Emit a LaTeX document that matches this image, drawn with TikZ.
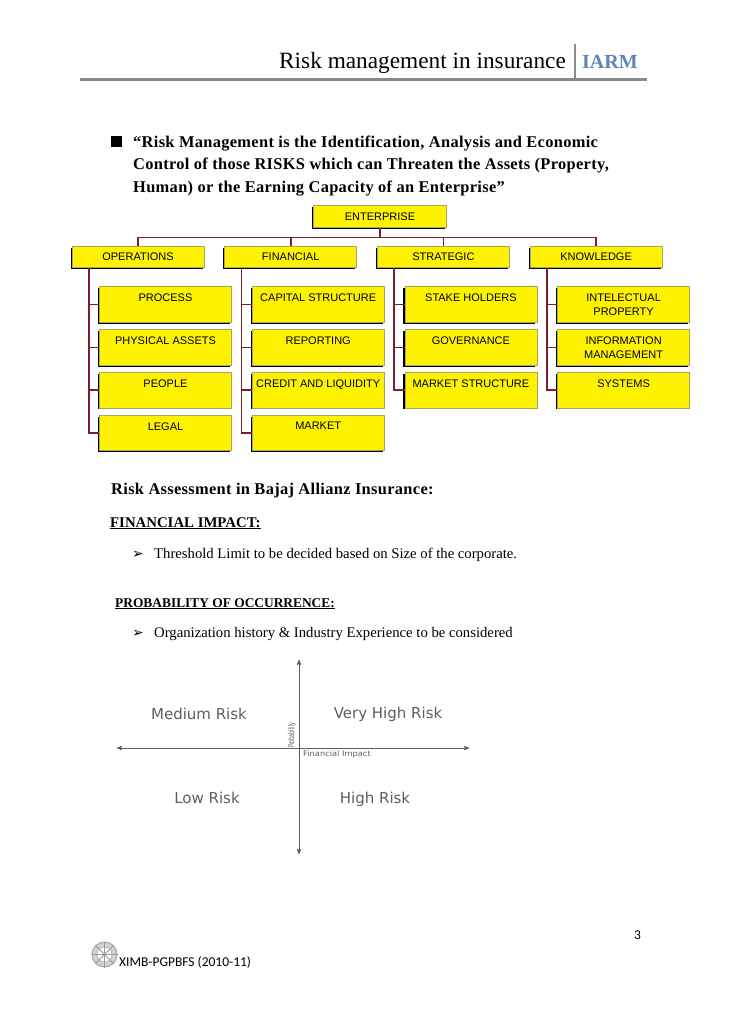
\documentclass[tikz,border=0pt]{standalone}
\usepackage{fontspec}
\setmainfont{Liberation Serif}
\setsansfont{Liberation Sans}
\newfontfamily\symfont{DejaVu Sans}
\newfontfamily\chartfont{DejaVu Sans}
\newfontfamily\pagefont{Carlito}
\newfontfamily\spacedfont[LetterSpace=2.0]{Liberation Serif}
\usetikzlibrary{arrows,shadows}
\definecolor{treered}{HTML}{7A1F2B}
\definecolor{boxedge}{HTML}{A9A65C}
\definecolor{headblue}{HTML}{5B86B5}
\definecolor{axisgray}{HTML}{5E5E5E}
\definecolor{rulegray}{HTML}{8A8A8A}
\newcommand{\toptext}[1]{\parbox[c][21pt][t]{130pt}{\centering\baselineskip=14pt #1}}

\begin{document}
\begin{tikzpicture}[x=1pt,y=-1pt,>=stealth',node distance=42.8pt,
  head node/.style={rectangle,fill=yellow,draw=boxedge,line width=0.6pt,inner sep=0pt,
    minimum width=132pt,minimum height=21.5pt,font=\sffamily\fontsize{11}{12}\selectfont,
    general shadow={fill=black,shadow xshift=-1.5pt,shadow yshift=-1.5pt}},
  sub node/.style={head node,minimum height=35.5pt},
  body text/.style={anchor=base west,inner sep=0pt,font=\fontsize{14.7}{16}\selectfont},
  risk text/.style={text=axisgray,inner sep=0pt,font=\chartfont\fontsize{15}{17}\selectfont},
  drop/.style={to path={(\tikztostart.south) -- ++(0,10) -| (\tikztotarget.north)}},
  branch/.style={to path={([xshift=17pt]\tikztostart.south west) |- (\tikztotarget.west)}}]
  \useasboundingbox (0,0) rectangle (728,1030);

  % page header
  \node[body text,font=\fontsize{23.3}{25}\selectfont] (title) at (279,69) {Risk management in insurance};
  \node[body text,text=headblue,font=\bfseries\fontsize{20}{22}\selectfont] (iarm) at (582,69) {IARM};
  \coordinate (ruleleft) at (80,79.3);
  \coordinate (ruleright) at (647,79.3);
  \coordinate (ruletop) at (575,44);
  \coordinate (rulefoot) at (575,79);
  \draw[rulegray,line width=2.7pt] (ruleleft) -- (ruleright);
  \draw[rulegray,line width=1.8pt] (ruletop) -- (rulefoot);

  % definition
  \node[rectangle,fill=black,inner sep=0pt,minimum size=10.5pt] (square) at (116.5,141.5) {};
  \node[body text,align=left,font=\spacedfont\bfseries\fontsize{16.4}{22.5}\selectfont] (definition) at (133,192)
    {“Risk Management is the Identification, Analysis and Economic\\
     Control of those RISKS which can Threaten the Assets (Property,\\
     Human) or the Earning Capacity of an Enterprise”};

  % tree
  \node[head node,minimum width=133pt] (enterprise) at (380,216.5) {ENTERPRISE};
  \node[head node] (operations) at (138,257) {OPERATIONS};
  \node[head node] (financial) [right of=operations,node distance=152.7pt] {FINANCIAL};
  \node[head node] (strategic) [right of=financial,node distance=152.7pt] {STRATEGIC};
  \node[head node] (knowledge) [right of=strategic,node distance=152.7pt] {KNOWLEDGE};

  \node[sub node] (process) at (165.5,304.5) {\toptext{PROCESS}};
  \node[sub node] (physical) [below of=process] {\toptext{PHYSICAL ASSETS}};
  \node[sub node] (people) [below of=physical] {\toptext{PEOPLE}};
  \node[sub node] (legal) [below of=people] {\toptext{LEGAL}};
  \node[sub node] (capital) [right of=process,node distance=152.7pt] {\toptext{CAPITAL STRUCTURE}};
  \node[sub node] (reporting) [below of=capital] {\toptext{REPORTING}};
  \node[sub node] (credit) [below of=reporting] {\toptext{CREDIT AND LIQUIDITY}};
  \node[sub node] (market) [below of=credit] {\toptext{MARKET}};
  \node[sub node] (stake) [right of=capital,node distance=152.7pt] {\toptext{STAKE HOLDERS}};
  \node[sub node] (governance) [below of=stake] {\toptext{GOVERNANCE}};
  \node[sub node] (structure) [below of=governance] {\toptext{MARKET STRUCTURE}};
  \node[sub node] (intelectual) [right of=stake,node distance=152.7pt] {\toptext{INTELECTUAL\\PROPERTY}};
  \node[sub node] (information) [below of=intelectual] {\toptext{INFORMATION\\MANAGEMENT}};
  \node[sub node] (systems) [below of=information] {\toptext{SYSTEMS}};

  \path[every edge/.style={draw=treered,line width=1.6pt}]
    (enterprise) edge[drop] (operations)
    (enterprise) edge[drop] (financial)
    (enterprise) edge[drop] (strategic)
    (enterprise) edge[drop] (knowledge)
    (operations) edge[branch] (process)
    (operations) edge[branch] (physical)
    (operations) edge[branch] (people)
    (operations) edge[branch] (legal)
    (financial) edge[branch] (capital)
    (financial) edge[branch] (reporting)
    (financial) edge[branch] (credit)
    (financial) edge[branch] (market)
    (strategic) edge[branch] (stake)
    (strategic) edge[branch] (governance)
    (strategic) edge[branch] (structure)
    (knowledge) edge[branch] (intelectual)
    (knowledge) edge[branch] (information)
    (knowledge) edge[branch] (systems);

  % risk assessment
  \node[body text,font=\spacedfont\bfseries\fontsize{16.4}{18}\selectfont] (assess) at (111,494) {Risk Assessment in Bajaj Allianz Insurance:};
  \node[body text,font=\bfseries\fontsize{14.8}{16}\selectfont] (impact) at (110,527) {\underline{FINANCIAL IMPACT:}};
  \node[body text,font=\symfont\fontsize{14}{16}\selectfont] (arrowa) at (132,558) {➢};
  \node[body text] (threshold) at (154,558) {Threshold Limit to be decided based on Size of the corporate.};
  \node[body text,font=\bfseries\fontsize{13.4}{15}\selectfont] (probability) at (115,607) {\underline{PROBABILITY OF OCCURRENCE:}};
  \node[body text,font=\symfont\fontsize{14}{16}\selectfont] (arrowb) at (132,637) {➢};
  \node[body text] (history) at (154,637) {Organization history \& Industry Experience to be considered};

  % risk matrix
  \coordinate (west) at (117,748);
  \coordinate (east) at (469,748);
  \coordinate (north) at (299,660);
  \coordinate (south) at (299,854);
  \draw[<->,axisgray,line width=0.8pt] (west) -- (east);
  \draw[<->,axisgray,line width=0.8pt] (north) -- (south);
  \node[risk text] (medium) at (199,714) {Medium Risk};
  \node[risk text] (veryhigh) at (388,714) {Very High Risk};
  \node[risk text] (low) at (207,798) {Low Risk};
  \node[risk text] (high) at (375,799) {High Risk};
  \node[risk text,rotate=90,font=\chartfont\fontsize{8.5}{10}\selectfont,xscale=0.57] (prob) at (292,735) {Probability};
  \node[risk text,anchor=west,font=\chartfont\fontsize{7.6}{9}\selectfont,xscale=1.09] (impactlabel) at (303,754) {Financial Impact};

  % page foot
  \node[circle,draw=gray!70,fill=gray!35,line width=1pt,minimum size=25pt,inner sep=0pt] (logo) at (104.5,954.5) {};
  \node[circle,draw=gray!80,fill=white,minimum size=15pt,inner sep=0pt] (hub) at (logo) {};
  \foreach \a in {0,45,...,315}
    \draw[gray!80,line width=0.8pt] (logo.center) -- (logo.\a);
  \node[body text,font=\pagefont\fontsize{13.5}{15}\selectfont] (foot) at (119,966) {XIMB-PGPBFS (2010-11)};
  \node[body text,font=\pagefont\fontsize{13.5}{15}\selectfont] (pageno) at (634,939) {3};
\end{tikzpicture}
\end{document}
